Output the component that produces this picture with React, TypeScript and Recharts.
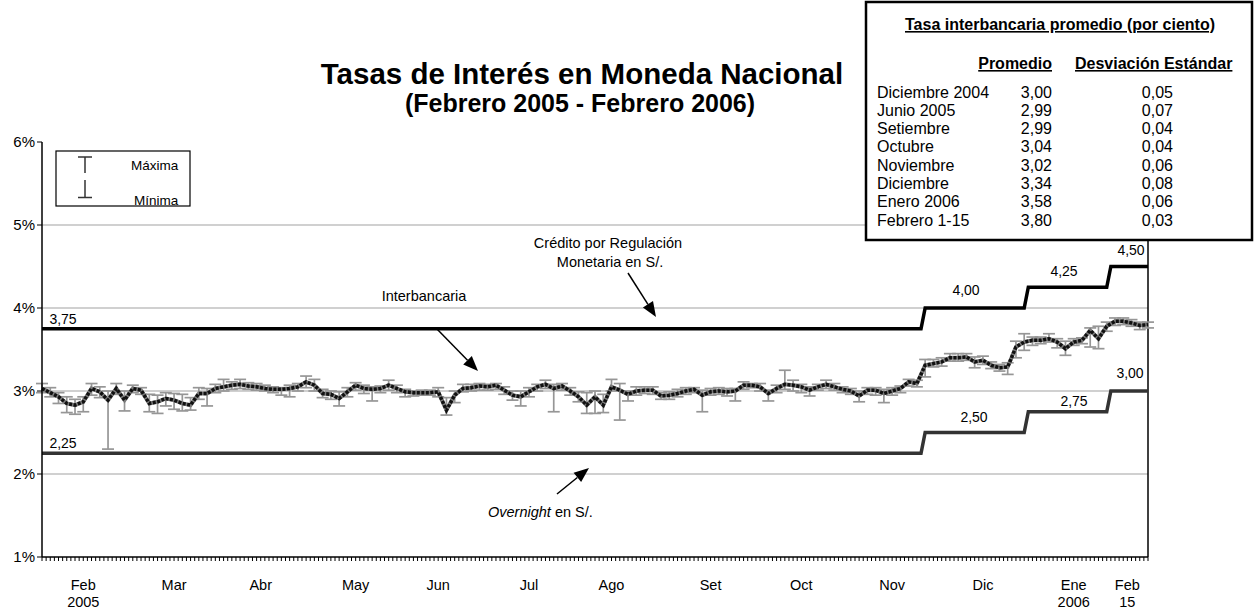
import React from "react";
import { ComposedChart, Line, XAxis, YAxis, ReferenceLine, ErrorBar } from "recharts";

const FONT = "'Liberation Sans', Arial, Helvetica, sans-serif";
const LAST_DAY = 268;

// tasa interbancaria, one point every 2nd business day: promedio, máxima, mínima
const interbankAvg = [
  3.03, 2.98, 2.93, 2.85, 2.83, 2.87, 3.03, 2.99, 2.89, 3.03, 2.89, 3.03, 3.01, 2.85, 2.87, 2.91,
  2.89, 2.85, 2.83, 2.97, 2.97, 3.03, 3.05, 3.07, 3.08, 3.06, 3.05, 3.03, 3.02, 3.02, 3.03, 3.05,
  3.11, 3.07, 2.97, 2.96, 2.91, 2.99, 3.07, 3.03, 3.02, 3.03, 3.07, 3.03, 2.99, 2.98, 2.98, 2.98,
  2.99, 2.77, 2.95, 3.03, 3.04, 3.06, 3.05, 3.07, 3.01, 2.95, 2.93, 2.99, 3.05, 3.08, 3.03, 3.06,
  3.0, 2.93, 2.83, 2.93, 2.83, 3.05, 3.01, 2.96, 3.0, 3.01, 3.01, 2.94, 2.95, 2.97, 3.0, 3.02,
  2.95, 2.99, 3.0, 2.99, 3.0, 3.07, 3.07, 3.05, 2.97, 3.03, 3.08, 3.07, 3.05, 3.01, 3.05, 3.08,
  3.05, 3.02, 3.0, 2.94, 3.01, 3.01, 2.97, 3.0, 3.03, 3.11, 3.09, 3.31, 3.33, 3.35, 3.4, 3.4,
  3.41, 3.35, 3.37, 3.31, 3.28, 3.29, 3.53, 3.59, 3.61, 3.61, 3.63, 3.59, 3.51, 3.59, 3.61, 3.73,
  3.63, 3.78, 3.84, 3.84, 3.82, 3.79, 3.8,
];
const interbankMax = [
  3.09, 3.04, 2.98, 2.93, 2.9, 2.93, 3.09, 3.05, 3.0, 3.09, 3.0, 3.07, 3.04, 2.96, 2.95, 2.98,
  2.97, 2.96, 2.92, 3.04, 3.03, 3.08, 3.14, 3.11, 3.14, 3.1, 3.09, 3.07, 3.05, 3.04, 3.07, 3.09,
  3.18, 3.14, 3.02, 3.0, 2.99, 3.04, 3.1, 3.07, 3.05, 3.06, 3.13, 3.07, 3.02, 3.0, 3.01, 3.01,
  3.04, 2.92, 3.0, 3.08, 3.08, 3.09, 3.08, 3.09, 3.05, 3.0, 3.0, 3.04, 3.08, 3.13, 3.08, 3.09,
  3.04, 2.99, 2.98, 3.0, 2.96, 3.14, 3.09, 3.0, 3.05, 3.05, 3.05, 2.98, 2.99, 3.02, 3.04, 3.04,
  3.01, 3.03, 3.04, 3.03, 3.03, 3.11, 3.09, 3.09, 3.01, 3.07, 3.25, 3.13, 3.08, 3.05, 3.08, 3.13,
  3.09, 3.05, 3.03, 3.0, 3.04, 3.04, 3.02, 3.04, 3.06, 3.14, 3.13, 3.38, 3.38, 3.4, 3.45, 3.45,
  3.45, 3.41, 3.42, 3.35, 3.32, 3.34, 3.6, 3.69, 3.65, 3.65, 3.69, 3.63, 3.6, 3.63, 3.64, 3.76,
  3.78, 3.83, 3.88, 3.88, 3.86, 3.83, 3.83,
];
const interbankMin = [
  2.98, 2.93, 2.85, 2.74, 2.72, 2.75, 2.95, 2.92, 2.3, 2.96, 2.76, 2.98, 2.96, 2.75, 2.73, 2.82,
  2.78, 2.76, 2.77, 2.9, 2.82, 2.98, 3.0, 3.02, 3.03, 3.02, 3.01, 3.0, 2.98, 2.95, 2.93, 3.0,
  3.04, 3.0, 2.92, 2.9, 2.82, 2.93, 3.01, 2.97, 2.88, 2.98, 3.01, 2.98, 2.93, 2.94, 2.95, 2.95,
  2.93, 2.71, 2.86, 2.99, 3.0, 3.01, 3.01, 3.02, 2.96, 2.89, 2.82, 2.93, 3.0, 3.03, 2.75, 3.01,
  2.95, 2.87, 2.73, 2.73, 2.74, 3.0, 2.65, 2.88, 2.95, 2.97, 2.96, 2.9, 2.9, 2.93, 2.96, 2.98,
  2.75, 2.95, 2.96, 2.94, 2.88, 3.02, 3.04, 3.0, 2.88, 2.98, 3.02, 3.0, 2.98, 2.94, 3.01, 3.03,
  3.01, 2.98, 2.96, 2.87, 2.96, 2.95, 2.86, 2.95, 2.98, 3.06, 3.05, 3.17, 3.29, 3.3, 3.36, 3.36,
  3.37, 3.28, 3.32, 3.27, 3.24, 3.2, 3.4, 3.49, 3.55, 3.57, 3.59, 3.52, 3.43, 3.55, 3.57, 3.53,
  3.51, 3.72, 3.79, 3.8, 3.78, 3.74, 3.76,
];

// tasas de referencia (escalones)
const stepDays = [0, 213, 214, 238, 239, 258, 259, LAST_DAY];
const creditRates = [3.75, 3.75, 4.0, 4.0, 4.25, 4.25, 4.5, 4.5];
const overnightRates = [2.25, 2.25, 2.5, 2.5, 2.75, 2.75, 3.0, 3.0];

const monthTickDays = [10, 32, 53, 76, 96, 118, 138, 162, 184, 206, 228, 250, 263];
const monthLabels = ["Feb", "Mar", "Abr", "May", "Jun", "Jul", "Ago", "Set", "Oct", "Nov", "Dic", "Ene", "Feb"];
const monthSubLabels = ["2005", "", "", "", "", "", "", "", "", "", "", "2006", "15"];

const tableMonths = ["Diciembre 2004", "Junio 2005", "Setiembre", "Octubre", "Noviembre", "Diciembre", "Enero 2006", "Febrero 1-15"];
const tableAvg = ["3,00", "2,99", "2,99", "3,04", "3,02", "3,34", "3,58", "3,80"];
const tableStd = ["0,05", "0,07", "0,04", "0,04", "0,06", "0,08", "0,06", "0,03"];

const yTicks = [1, 2, 3, 4, 5, 6];
const gridValues = [2, 3, 4, 5];

const allDays = Array.from({ length: LAST_DAY + 1 }, (_, i) => i);
const interbankData = interbankAvg.map((avg, i) => ({
  day: i * 2,
  avg,
  err: [avg - interbankMin[i], interbankMax[i] - avg],
}));
const creditData = stepDays.map((day, i) => ({ day, rate: creditRates[i] }));
const overnightData = stepDays.map((day, i) => ({ day, rate: overnightRates[i] }));

function MonthTick({ x, y, payload }: any) {
  const k = monthTickDays.indexOf(payload.value);
  if (k < 0) return <g />;
  return (
    <text x={x} y={y + 27} textAnchor="middle" fontSize={14.5} fontFamily={FONT} fill="#000">
      <tspan x={x}>{monthLabels[k]}</tspan>
      {monthSubLabels[k] ? (
        <tspan x={x} dy={16.5}>
          {monthSubLabels[k]}
        </tspan>
      ) : null}
    </text>
  );
}

function Arrow({ x1, y1, x2, y2 }: { x1: number; y1: number; x2: number; y2: number }) {
  const len = Math.hypot(x2 - x1, y2 - y1);
  const ux = (x2 - x1) / len;
  const uy = (y2 - y1) / len;
  const bx = x2 - ux * 15;
  const by = y2 - uy * 15;
  const pts = `${x2},${y2} ${bx - uy * 6},${by + ux * 6} ${bx + uy * 6},${by - ux * 6}`;
  return (
    <g>
      <line x1={x1} y1={y1} x2={bx} y2={by} stroke="#000" strokeWidth={1.5} />
      <polygon points={pts} fill="#000" />
    </g>
  );
}

function Overlay() {
  const t = { fontFamily: FONT, fill: "#000" };
  return (
    <svg width={1258} height={611} style={{ position: "absolute", left: 0, top: 0, pointerEvents: "none" }}>
      <text x={582} y={84} textAnchor="middle" fontSize={29.5} fontWeight="bold" {...t}>
        Tasas de Interés en Moneda Nacional
      </text>
      <text x={580} y={112} textAnchor="middle" fontSize={25} fontWeight="bold" {...t}>
        (Febrero 2005 - Febrero 2006)
      </text>

      {/* leyenda máxima / mínima */}
      <rect x={56} y={151} width={134} height={55} fill="#fff" stroke="#000" strokeWidth={1.2} />
      <g stroke="#333" strokeWidth={1.5}>
        <line x1={85} y1={157} x2={85} y2={173} />
        <line x1={78} y1={157} x2={92} y2={157} />
        <line x1={85} y1={180} x2={85} y2={197.5} />
        <line x1={78} y1={197.5} x2={92} y2={197.5} />
      </g>
      <text x={131} y={169.5} fontSize={13.5} {...t}>Máxima</text>
      <text x={134} y={204.5} fontSize={13.5} {...t}>Mínima</text>

      {/* cuadro de promedios */}
      <rect x={866} y={2} width={386} height={238} fill="#fff" stroke="#000" strokeWidth={2.5} />
      <text x={1060} y={30} textAnchor="middle" fontSize={16} fontWeight="bold" textDecoration="underline" {...t}>
        Tasa interbancaria promedio (por ciento)
      </text>
      <text x={1052} y={69} textAnchor="end" fontSize={16} fontWeight="bold" textDecoration="underline" {...t}>
        Promedio
      </text>
      <text x={1075} y={69} fontSize={16} fontWeight="bold" textDecoration="underline" {...t}>
        Desviación Estándar
      </text>
      {tableMonths.map((m, k) => (
        <g key={m}>
          <text x={877} y={97.5 + k * 18.3} fontSize={16} {...t}>{m}</text>
          <text x={1052} y={97.5 + k * 18.3} textAnchor="end" fontSize={16} {...t}>{tableAvg[k]}</text>
          <text x={1173} y={97.5 + k * 18.3} textAnchor="end" fontSize={16} {...t}>{tableStd[k]}</text>
        </g>
      ))}

      {/* etiquetas de los escalones */}
      <g fontSize={14} textAnchor="middle" {...t}>
        <text x={63} y={324}>3,75</text>
        <text x={966} y={295}>4,00</text>
        <text x={1064} y={276}>4,25</text>
        <text x={1131} y={255}>4,50</text>
        <text x={63} y={448}>2,25</text>
        <text x={974} y={422}>2,50</text>
        <text x={1074} y={406}>2,75</text>
        <text x={1130} y={378}>3,00</text>
      </g>

      {/* anotaciones */}
      <text x={608} y={248} textAnchor="middle" fontSize={14.5} {...t}>Crédito por Regulación</text>
      <text x={610} y={267} textAnchor="middle" fontSize={14.5} {...t}>Monetaria en S/.</text>
      <Arrow x1={628} y1={273} x2={656} y2={317} />
      <text x={424} y={301} textAnchor="middle" fontSize={14.5} {...t}>Interbancaria</text>
      <Arrow x1={436} y1={328} x2={478} y2={371} />
      <text x={488} y={517} fontSize={14.5} {...t}>
        <tspan fontStyle="italic">Overnight</tspan> en S/.
      </text>
      <Arrow x1={557} y1={494} x2={589} y2={468} />
    </svg>
  );
}

export default function App() {
  return (
    <div style={{ position: "absolute", left: 0, top: 0, width: 1258, height: 611, background: "#fff", fontFamily: FONT }}>
      <ComposedChart width={1258} height={611} margin={{ top: 142, right: 110, bottom: 0, left: 0 }}>
        <XAxis
          dataKey="day"
          type="number"
          domain={[0, LAST_DAY]}
          ticks={allDays}
          interval={0}
          height={54}
          tickSize={4}
          axisLine={{ stroke: "#000", strokeWidth: 1.5 }}
          tickLine={{ stroke: "#000" }}
          tick={<MonthTick />}
        />
        <YAxis
          type="number"
          domain={[1, 6]}
          ticks={yTicks}
          width={42}
          tickSize={5}
          tickFormatter={(v: number) => `${v}%`}
          tick={{ fill: "#000", fontSize: 15, fontFamily: FONT }}
          axisLine={{ stroke: "#000", strokeWidth: 1.5 }}
          tickLine={{ stroke: "#000" }}
        />
        {gridValues.map((v) => (
          <ReferenceLine key={v} y={v} stroke="#c0c0c0" strokeWidth={1.5} />
        ))}
        <ReferenceLine x={LAST_DAY} stroke="#000" strokeWidth={1.5} />
        <Line data={creditData} dataKey="rate" stroke="#000" strokeWidth={3.5} dot={false} activeDot={false} isAnimationActive={false} />
        <Line data={overnightData} dataKey="rate" stroke="#333" strokeWidth={3.5} dot={false} activeDot={false} isAnimationActive={false} />
        <Line data={interbankData} dataKey="avg" stroke="#000" strokeOpacity={0} dot={false} activeDot={false} isAnimationActive={false}>
          <ErrorBar dataKey="err" direction="y" width={6} stroke="#969696" strokeWidth={1.7} isAnimationActive={false} />
        </Line>
        <Line data={interbankData} dataKey="avg" stroke="#7a7a7a" strokeWidth={4} dot={false} activeDot={false} isAnimationActive={false} />
        <Line data={interbankData} dataKey="avg" stroke="#111" strokeWidth={3.5} strokeDasharray="3 1.5" dot={false} activeDot={false} isAnimationActive={false} />
      </ComposedChart>
      <Overlay />
    </div>
  );
}
